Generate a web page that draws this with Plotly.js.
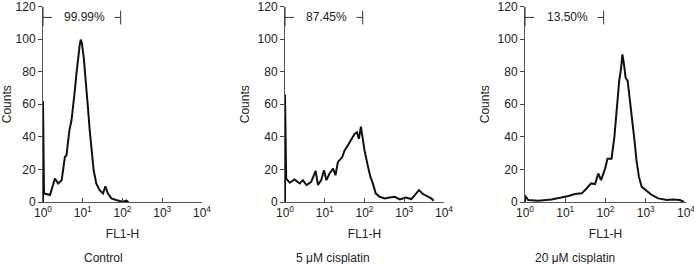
<!DOCTYPE html>
<html>
<head>
<meta charset="utf-8">
<script src="https://cdn.plot.ly/plotly-3.0.1.min.js"></script>
<style>html,body{margin:0;padding:0;background:#fff;}#chart{width:694px;height:264px;}</style>
</head>
<body>
<div id="chart"></div>
<script>
// FL1-H intensity (x) and counts (y)
var controlX = [1, 1, 1.06, 1.5, 2.0, 2.4, 2.95, 3.55, 3.9, 4.6, 5.2, 5.75, 6.3, 6.9, 7.6, 8.4, 8.9, 9.5, 10.6, 12.3, 13.5, 15, 16.6, 18.8, 21.9, 26.6, 32.4, 37.2, 42.7, 52.5, 69, 100, 126, 141];
var controlY = [0, 62, 5.3, 4.3, 14.4, 11.4, 13.4, 27.6, 28.6, 43.8, 50, 58, 68, 78, 88.5, 96.6, 99.7, 97.6, 88.5, 72, 58, 43.8, 31.7, 19.5, 11.4, 7.3, 5.3, 9.7, 5.3, 2.2, 1.2, 0.2, 0.8, 0];

var cis5X = [1, 1, 1.07, 1.32, 1.74, 2.34, 2.82, 3.47, 4.57, 5.9, 6.76, 8.13, 9.55, 11, 13.2, 16.2, 18.6, 21.4, 27.5, 31.6, 38, 46.8, 56.2, 64.6, 72.4, 81.3, 89, 100, 123, 141, 162, 191, 240, 324, 427, 575, 776, 1096, 1514, 1950, 2344, 2951, 3981, 4786, 5495];
var cis5Y = [0, 66, 14.4, 11.8, 13.8, 11.4, 13.4, 10.4, 12.4, 19.1, 10.4, 13.4, 19.5, 13.4, 17.5, 20.5, 16.4, 24.5, 27.6, 31.7, 34.7, 38.8, 41.8, 42.8, 38.8, 46.3, 39.8, 31.7, 21.5, 15.4, 11.4, 5.3, 3.2, 2.2, 2.8, 3.2, 1.6, 2.8, 1.8, 4.7, 7.3, 4.9, 3.2, 2.2, 0.8];

var cis20X = [1, 1, 1.2, 2.14, 4.57, 8.13, 12, 17.4, 25.7, 33.9, 43.7, 55, 66, 77.6, 97.7, 112, 141, 166, 182, 200, 219, 245, 263, 288, 316, 355, 407, 468, 525, 589, 676, 794, 1000, 1413, 2042, 3311, 4786, 7079, 8913];
var cis20Y = [0, 4, 1.2, 0.8, 1.6, 2.8, 3.7, 4.9, 5.3, 8.3, 11.4, 11, 17.5, 13.4, 20.5, 26.6, 26.6, 39.8, 52, 64, 74.3, 82.4, 90.6, 84.5, 76.3, 74.3, 62.1, 50, 37.8, 25.6, 15.4, 9.3, 7.3, 4.3, 2.2, 1.2, 1.6, 1.2, 0];

var captions = ["Control", "5 \u03bcM cisplatin", "20 \u03bcM cisplatin"];
var gateLabels = ["99.99%", "87.45%", "13.50%"];
var gateEnd = 90;   // upper gate bound on FL1-H
var xTickVals = [1, 10, 100, 1000, 10000];
var xTickText = ["10<sup>0</sup>", "10<sup>1</sup>", "10<sup>2</sup>", "10<sup>3</sup>", "10<sup>4</sup>"];
var yTickVals = [0, 20, 40, 60, 80, 100, 120];

var font = {family: "Liberation Sans, Arial, sans-serif", size: 12, color: "#222"};
var series = [[controlX, controlY], [cis5X, cis5Y], [cis20X, cis20Y]];
var domains = [[43/694, 202/694], [285/694, 444/694], [525/694, 686/694]];
var capX = [103/694, 333/694, 575/694];

var traces = [];
var layout = {
  width: 694, height: 264,
  margin: {l: 0, r: 0, t: 0, b: 0},
  paper_bgcolor: "#fff", plot_bgcolor: "#fff",
  showlegend: false,
  font: font,
  shapes: [], annotations: []
};

series.forEach(function (s, i) {
  var n = i === 0 ? "" : String(i + 1);
  traces.push({
    x: s[0], y: s[1], type: "scatter", mode: "lines",
    xaxis: "x" + n, yaxis: "y" + n,
    line: {color: "#111", width: 2}, hoverinfo: "skip"
  });
  layout["xaxis" + n] = {
    type: "log", range: [0, 4], domain: domains[i], anchor: "y" + n,
    tickvals: xTickVals, ticktext: xTickText,
    ticks: "inside", ticklen: 4, tickcolor: "#444",
    showline: true, linecolor: "#555", linewidth: 1,
    showgrid: false, zeroline: false, tickfont: font,
    ticklabeloverflow: "allow",
    title: {text: "FL1-H", font: font, standoff: 10}
  };
  layout["yaxis" + n] = {
    range: [0, 120], domain: [62/264, 257.5/264], anchor: "x" + n,
    tickvals: yTickVals, ticks: "outside", ticklen: 4, tickcolor: "#444",
    showline: true, linecolor: "#555", linewidth: 1,
    showgrid: false, zeroline: false, tickfont: font,
    ticklabeloverflow: "allow",
    title: {text: "Counts", font: font, standoff: 5}
  };
  var xr = "x" + n + " domain", yr = "y" + n;
  var endF = Math.log10(gateEnd) / 4;
  var lineStyle = {color: "#333", width: 1};
  layout.shapes.push(
    {type: "line", xref: xr, yref: yr, x0: 0, x1: 0, y0: 108, y1: 120, line: lineStyle},
    {type: "line", xref: xr, yref: yr, x0: 0, x1: 0.057, y0: 113.3, y1: 113.3, line: lineStyle},
    {type: "line", xref: xr, yref: yr, x0: 0.45, x1: endF, y0: 113.3, y1: 113.3, line: lineStyle},
    {type: "line", xref: xr, yref: yr, x0: endF, x1: endF, y0: 109, y1: 117.5, line: lineStyle}
  );
  layout.annotations.push(
    {xref: xr, yref: yr, x: 0.264, y: 113.3, text: gateLabels[i], showarrow: false, font: font, xanchor: "center", yanchor: "middle"},
    {xref: "paper", yref: "paper", x: capX[i], y: 6/264, text: captions[i], showarrow: false, font: font, xanchor: "center", yanchor: "middle"}
  );
});

Plotly.newPlot("chart", traces, layout, {staticPlot: true, displayModeBar: false});
</script>
</body>
</html>
